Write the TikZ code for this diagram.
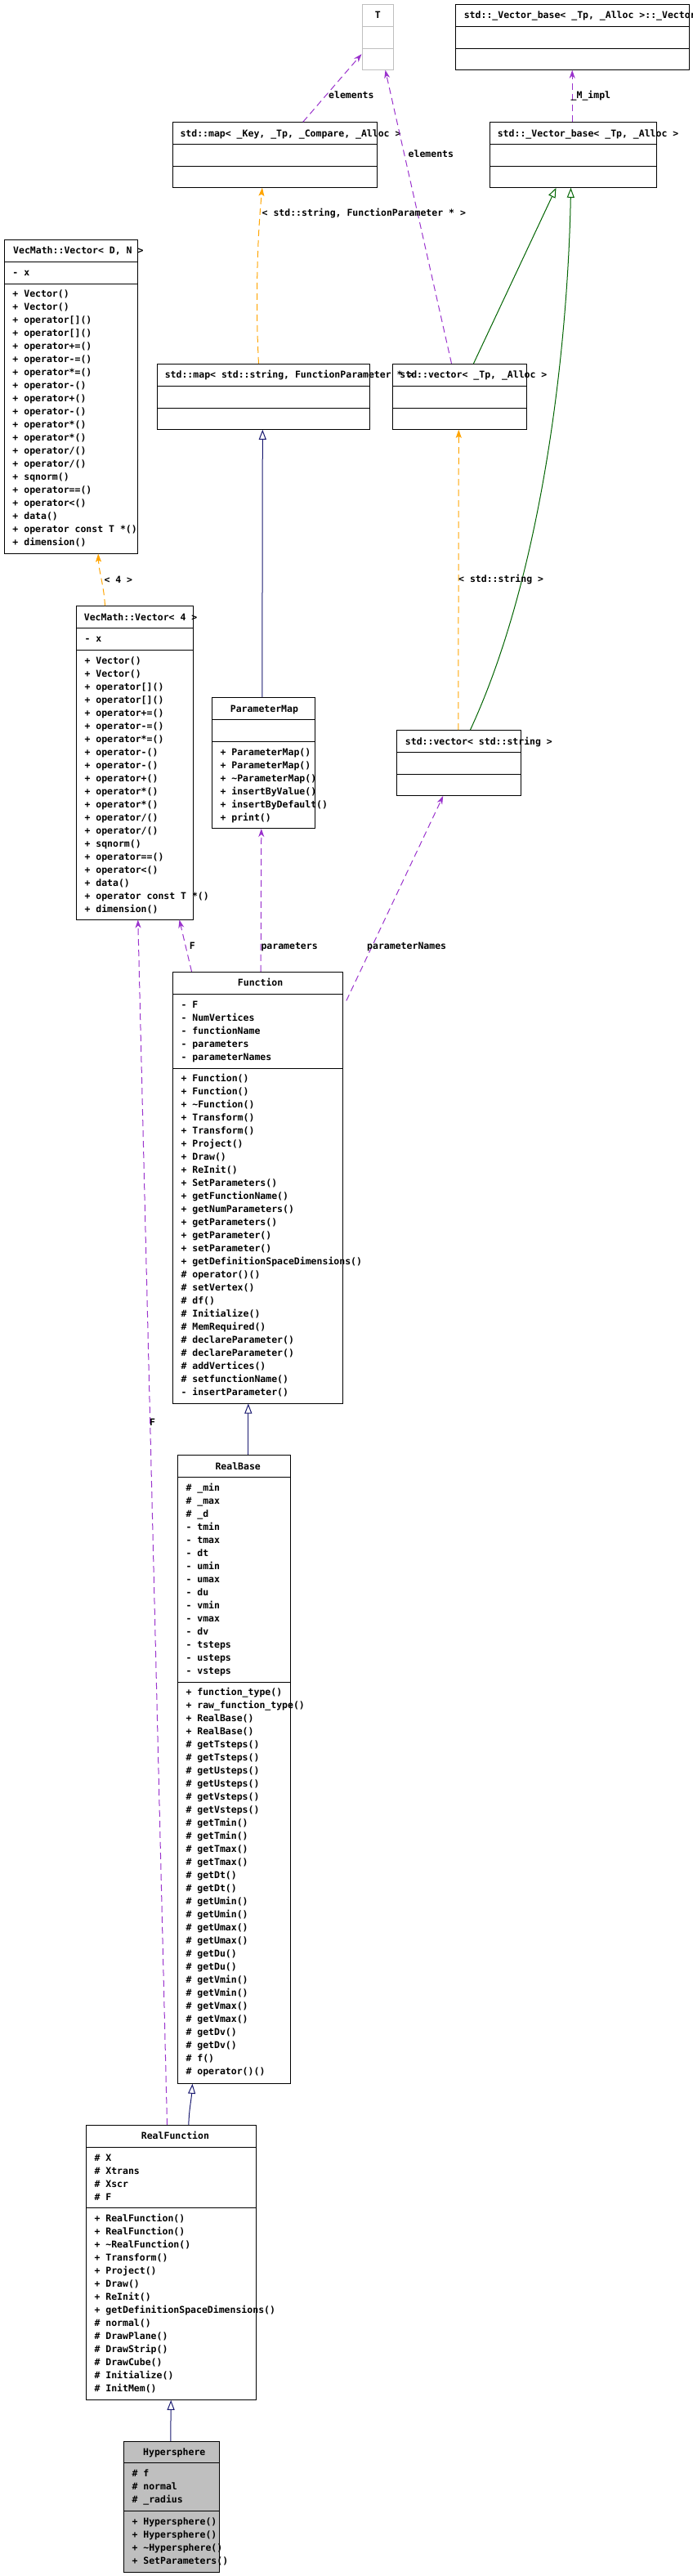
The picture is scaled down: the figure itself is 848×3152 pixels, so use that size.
\documentclass[tikz,border=0pt]{standalone}
\usepackage{fontspec}
\newfontfamily\dm{DejaVu Sans Mono}
\usetikzlibrary{arrows.meta,calc,fit}
\definecolor{purp}{HTML}{9A32CD}
\definecolor{orng}{HTML}{FFA500}
\definecolor{navyb}{HTML}{191970}
\definecolor{dgreen}{HTML}{006400}
\definecolor{grey75}{HTML}{BFBFBF}
% box: [style]{name}{x1}{y1}{x2}{y2}{sep1}{sep2}
\newcommand\umlbox[8][draw=black]{%
  \node[cls,#1,fit={(#3,#4) (#5,#6)}] (#2) {};
  \draw[line width=1pt,#1] (#3,#7) -- (#5,#7) (#3,#8) -- (#5,#8);}
% title: {name}{x}{top}{text}
\newcommand\ttl[4]{\node[txt] (#1) at (#2,{#3+17.5}) {#4};}
% member lines: {prefix}{x}{sep}{list}
\newcommand\mlines[4]{\foreach \mytext [count=\i from 0] in {#4}
  {\node[txt] (#1-\i) at (#2,{#3+16.7+16*\i}) {\mytext};}}
\begin{document}
\begin{tikzpicture}[x=1pt,y=-1pt,
  cls/.style={draw=black,line width=1pt,inner sep=0pt},
  txt/.style={font=\dm\bfseries\fontsize{11.5pt}{16pt}\selectfont,inner sep=0pt,anchor=base west},
  usage/.style={purp,line width=1pt,dash pattern=on 8pt off 5pt,-{Stealth[length=10pt,width=7pt,inset=3pt]}},
  tmpl/.style={orng,line width=1pt,dash pattern=on 8pt off 5pt,-{Stealth[length=10pt,width=7pt,inset=2pt]}},
  pubinh/.style={navyb,line width=1pt,-{Triangle[open,length=12pt,width=9pt,fill=white]}},
  protinh/.style={dgreen,line width=1pt,-{Triangle[open,length=12pt,width=9pt,fill=white]}}]
\useasboundingbox (0,0) rectangle (848,3152);
\fill[white] (0,0) rectangle (848,3152);

% ---------------- boxes
\umlbox[draw=grey75]{Tc}{443}{5.3}{481.7}{85.3}{32.3}{59.3}
\umlbox{vimpl}{557.4}{5.3}{843}{85.3}{32.3}{59.3}
\umlbox{mk}{211.4}{149.7}{461.6}{229.3}{176.3}{203.3}
\umlbox{vb}{599.7}{149.7}{803.5}{229.3}{176.3}{203.3}
\umlbox{ms}{192.3}{445.3}{452.7}{525.3}{472.3}{499.3}
\umlbox{vt}{480.3}{445.3}{644.6}{525.3}{472.3}{499.3}
\umlbox{vdn}{5.3}{293.3}{168.7}{677}{320.3}{347}
\umlbox{vf}{93.3}{741.7}{236.7}{1125}{768.7}{795.3}
\umlbox{pm}{259.3}{853.5}{385.7}{1013.5}{880.4}{907.3}
\umlbox{vs}{485.3}{893.5}{637.7}{973.5}{920.4}{947.3}
\umlbox{fn}{211.3}{1189.3}{419.3}{1717}{1216.4}{1307.1}
\umlbox{rb}{217.3}{1780.7}{355}{2549.3}{1807.7}{2058.2}
\umlbox{rf}{105.3}{2600.3}{313.3}{2936.3}{2627.3}{2701.3}
\umlbox[draw=black,fill=grey75]{hs}{151.3}{2987.3}{268.3}{3147.3}{3013.3}{3072.7}

% ---------------- titles
\node[txt,anchor=base] (Tc-t) at (462.3,22.8) {T};
\ttl{vimpl-t}{567.6}{5.3}{std::\_Vector\_base< \_Tp, \_Alloc >::\_Vector\_impl}
\ttl{mk-t}{220.3}{149.7}{std::map< \_Key, \_Tp, \_Compare, \_Alloc >}
\ttl{vb-t}{608.6}{149.7}{std::\_Vector\_base< \_Tp, \_Alloc >}
\ttl{ms-t}{201.6}{445.3}{std::map< std::string, FunctionParameter * >}
\ttl{vt-t}{489.2}{445.3}{std::vector< \_Tp, \_Alloc >}
\ttl{vdn-t}{16}{293.3}{VecMath::Vector< D, N >}
\ttl{vf-t}{102.7}{741.7}{VecMath::Vector< 4 >}
\ttl{pm-t}{281.7}{853.5}{ParameterMap}
\ttl{vs-t}{495.7}{893.5}{std::vector< std::string >}
\ttl{fn-t}{290.7}{1189.3}{Function}
\ttl{rb-t}{263.3}{1780.7}{RealBase}
\ttl{rf-t}{172.7}{2600.3}{RealFunction}
\ttl{hs-t}{175}{2987.3}{Hypersphere}

% ---------------- members
\mlines{vdn-a}{15.3}{320.3}{{- x}}
\mlines{vdn-m}{15.3}{347}{{+ Vector()},{+ Vector()},{+ operator[]()},{+ operator[]()},{+ operator+=()},{+ operator-=()},{+ operator*=()},{+ operator-()},{+ operator+()},{+ operator-()},{+ operator*()},{+ operator*()},{+ operator/()},{+ operator/()},{+ sqnorm()},{+ operator==()},{+ operator<()},{+ data()},{+ operator const T *()},{+ dimension()}}
\mlines{vf-a}{103.3}{768.7}{{- x}}
\mlines{vf-m}{103.3}{795.3}{{+ Vector()},{+ Vector()},{+ operator[]()},{+ operator[]()},{+ operator+=()},{+ operator-=()},{+ operator*=()},{+ operator-()},{+ operator-()},{+ operator+()},{+ operator*()},{+ operator*()},{+ operator/()},{+ operator/()},{+ sqnorm()},{+ operator==()},{+ operator<()},{+ data()},{+ operator const T *()},{+ dimension()}}
\mlines{pm-m}{269.3}{907.3}{{+ ParameterMap()},{+ ParameterMap()},{+ \textasciitilde ParameterMap()},{+ insertByValue()},{+ insertByDefault()},{+ print()}}
\mlines{fn-a}{221.3}{1216.4}{{- F},{- NumVertices},{- functionName},{- parameters},{- parameterNames}}
\mlines{fn-m}{221.3}{1307.1}{{+ Function()},{+ Function()},{+ \textasciitilde Function()},{+ Transform()},{+ Transform()},{+ Project()},{+ Draw()},{+ ReInit()},{+ SetParameters()},{+ getFunctionName()},{+ getNumParameters()},{+ getParameters()},{+ getParameter()},{+ setParameter()},{+ getDefinitionSpaceDimensions()},{\# operator()()},{\# setVertex()},{\# df()},{\# Initialize()},{\# MemRequired()},{\# declareParameter()},{\# declareParameter()},{\# addVertices()},{\# setfunctionName()},{- insertParameter()}}
\mlines{rb-a}{227.3}{1807.7}{{\# \_min},{\# \_max},{\# \_d},{- tmin},{- tmax},{- dt},{- umin},{- umax},{- du},{- vmin},{- vmax},{- dv},{- tsteps},{- usteps},{- vsteps}}
\mlines{rb-m}{227.3}{2058.2}{{+ function\_type()},{+ raw\_function\_type()},{+ RealBase()},{+ RealBase()},{\# getTsteps()},{\# getTsteps()},{\# getUsteps()},{\# getUsteps()},{\# getVsteps()},{\# getVsteps()},{\# getTmin()},{\# getTmin()},{\# getTmax()},{\# getTmax()},{\# getDt()},{\# getDt()},{\# getUmin()},{\# getUmin()},{\# getUmax()},{\# getUmax()},{\# getDu()},{\# getDu()},{\# getVmin()},{\# getVmin()},{\# getVmax()},{\# getVmax()},{\# getDv()},{\# getDv()},{\# f()},{\# operator()()}}
\mlines{rf-a}{115.3}{2627.3}{{\# X},{\# Xtrans},{\# Xscr},{\# F}}
\mlines{rf-m}{115.3}{2701.3}{{+ RealFunction()},{+ RealFunction()},{+ \textasciitilde RealFunction()},{+ Transform()},{+ Project()},{+ Draw()},{+ ReInit()},{+ getDefinitionSpaceDimensions()},{\# normal()},{\# DrawPlane()},{\# DrawStrip()},{\# DrawCube()},{\# Initialize()},{\# InitMem()}}
\mlines{hs-a}{161.3}{3013.3}{{\# f},{\# normal},{\# \_radius}}
\mlines{hs-m}{161.3}{3072.7}{{+ Hypersphere()},{+ Hypersphere()},{+ \textasciitilde Hypersphere()},{+ SetParameters()}}

% ---------------- connectors
\draw[usage] ($(mk.north west)+(159.9,0)$) -- ($(Tc.north west)+(0,61.4)$);
\node[txt] (l-el1) at (402,121) {elements};
\draw[usage] ($(vt.north west)+(72.7,0)$) -- ($(Tc.south west)+(29,0)$);
\node[txt] (l-el2) at (499.5,193) {elements};
\draw[usage] ($(vb.north west)+(101,0)$) -- ($(vimpl.south west)+(143.3,0)$);
\node[txt] (l-mi) at (698.5,121) {\_M\_impl};
\draw[tmpl] ($(ms.north west)+(124.7,0)$) .. controls (313,380) and (314,300) .. ($(mk.south west)+(110,0)$);
\node[txt] (l-mp) at (320.5,265) {< std::string, FunctionParameter * >};
\draw[protinh] ($(vt.north west)+(99.7,0)$) -- ($(vb.south west)+(81.3,0)$);
\draw[protinh] ($(vs.north west)+(90.7,0)$) .. controls (665,700) and (695,420) .. ($(vb.south west)+(99.3,0)$);
\draw[pubinh] ($(pm.north west)+(62,0)$) -- ($(ms.south west)+(129.5,0)$);
\draw[tmpl] ($(vs.north west)+(76,0)$) -- ($(vt.south west)+(81.5,0)$);
\node[txt] (l-vs) at (561,712.6) {< std::string >};
\draw[tmpl] ($(vf.north west)+(35.7,0)$) .. controls (127,715) and (121,700) .. ($(vdn.south west)+(115.4,0)$);
\node[txt] (l-v4) at (127.3,713) {< 4 >};
\draw[usage] ($(fn.north west)+(23.7,0)$) -- ($(vf.south west)+(126.7,0)$);
\node[txt] (l-f1) at (231.7,1161) {F};
\draw[usage] ($(fn.north west)+(108.3,0)$) -- ($(pm.south west)+(61,0)$);
\node[txt] (l-pa) at (319.3,1161) {parameters};
\draw[usage] ($(fn.north east)+(4,35.7)$) -- ($(vs.south west)+(57.4,0)$);
\node[txt] (l-pn) at (449,1161) {parameterNames};
\draw[pubinh] ($(rb.north west)+(87,0)$) -- ($(fn.south west)+(93,0)$);
\draw[pubinh] ($(rf.north west)+(126,0)$) .. controls (231.5,2580) and (234,2570) .. ($(rb.south west)+(18.7,0)$);
\draw[pubinh] ($(hs.north west)+(58,0)$) -- ($(rf.south west)+(104.4,0)$);
\draw[usage] ($(rf.north west)+(99.7,0)$) -- ($(vf.south west)+(76,0)$);
\node[txt] (l-f2) at (183,1744) {F};
\end{tikzpicture}
\end{document}
